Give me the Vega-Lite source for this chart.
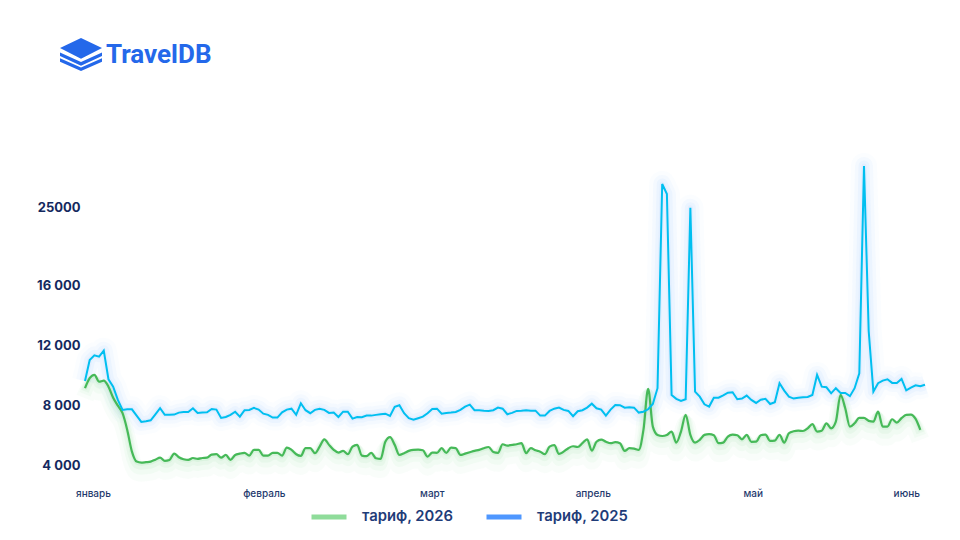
{
  "$schema": "https://vega.github.io/schema/vega-lite/v6.json",
  "description": "TravelDB daily fares, 2026 vs 2025",
  "autosize": "none",
  "width": 840,
  "height": 385,
  "padding": {"left": 85, "top": 100, "right": 35, "bottom": 55},
  "background": "white",
  "config": {"view": {"stroke": null}, "font": "Inter"},
  "title": {
    "text": "TravelDB",
    "anchor": "start",
    "frame": "group",
    "dx": 21,
    "dy": 30,
    "offset": 0,
    "font": "Roboto",
    "fontSize": 26,
    "fontWeight": 700,
    "color": "#2468ea"
  },
  "data": {"values": [
    {"day":0,"тариф, 2026":9090,"тариф, 2025":9570},{"day":1,"тариф, 2026":9750,"тариф, 2025":10960},{"day":2,"тариф, 2026":9970,"тариф, 2025":11270},{"day":3,"тариф, 2026":9520,"тариф, 2025":11180},{"day":4,"тариф, 2026":9590,"тариф, 2025":11580},{"day":5,"тариф, 2026":9190,"тариф, 2025":9680},{"day":6,"тариф, 2026":8460,"тариф, 2025":9190},{"day":7,"тариф, 2026":7930,"тариф, 2025":8310},{"day":8,"тариф, 2026":7430,"тариф, 2025":7650},{"day":9,"тариф, 2026":6320,"тариф, 2025":7690},
    {"day":10,"тариф, 2026":4880,"тариф, 2025":7690},{"day":11,"тариф, 2026":4220,"тариф, 2025":7270},{"day":12,"тариф, 2026":4150,"тариф, 2025":6850},{"day":13,"тариф, 2026":4180,"тариф, 2025":6900},{"day":14,"тариф, 2026":4220,"тариф, 2025":6960},{"day":15,"тариф, 2026":4350,"тариф, 2025":7360},{"day":16,"тариф, 2026":4480,"тариф, 2025":7760},{"day":17,"тариф, 2026":4270,"тариф, 2025":7320},{"day":18,"тариф, 2026":4330,"тариф, 2025":7320},{"day":19,"тариф, 2026":4750,"тариф, 2025":7340},
    {"day":20,"тариф, 2026":4510,"тариф, 2025":7470},{"day":21,"тариф, 2026":4380,"тариф, 2025":7510},{"day":22,"тариф, 2026":4330,"тариф, 2025":7510},{"day":23,"тариф, 2026":4460,"тариф, 2025":7760},{"day":24,"тариф, 2026":4400,"тариф, 2025":7450},{"day":25,"тариф, 2026":4460,"тариф, 2025":7470},{"day":26,"тариф, 2026":4480,"тариф, 2025":7490},{"day":27,"тариф, 2026":4680,"тариф, 2025":7710},{"day":28,"тариф, 2026":4710,"тариф, 2025":7670},{"day":29,"тариф, 2026":4480,"тариф, 2025":7120},
    {"day":30,"тариф, 2026":4660,"тариф, 2025":7180},{"day":31,"тариф, 2026":4330,"тариф, 2025":7320},{"day":32,"тариф, 2026":4660,"тариф, 2025":7530},{"day":33,"тариф, 2026":4750,"тариф, 2025":7200},{"day":34,"тариф, 2026":4800,"тариф, 2025":7630},{"day":35,"тариф, 2026":4620,"тариф, 2025":7650},{"day":36,"тариф, 2026":5000,"тариф, 2025":7780},{"day":37,"тариф, 2026":5000,"тариф, 2025":7670},{"day":38,"тариф, 2026":4620,"тариф, 2025":7400},{"day":39,"тариф, 2026":4620,"тариф, 2025":7320},
    {"day":40,"тариф, 2026":4800,"тариф, 2025":7140},{"day":41,"тариф, 2026":4800,"тариф, 2025":7140},{"day":42,"тариф, 2026":4620,"тариф, 2025":7490},{"day":43,"тариф, 2026":5150,"тариф, 2025":7670},{"day":44,"тариф, 2026":5000,"тариф, 2025":7730},{"day":45,"тариф, 2026":4710,"тариф, 2025":7320},{"day":46,"тариф, 2026":4600,"тариф, 2025":8090},{"day":47,"тариф, 2026":5110,"тариф, 2025":7630},{"day":48,"тариф, 2026":5110,"тариф, 2025":7430},{"day":49,"тариф, 2026":4780,"тариф, 2025":7650},
    {"day":50,"тариф, 2026":5210,"тариф, 2025":7730},{"day":51,"тариф, 2026":5700,"тариф, 2025":7650},{"day":52,"тариф, 2026":5330,"тариф, 2025":7450},{"day":53,"тариф, 2026":5000,"тариф, 2025":7470},{"day":54,"тариф, 2026":4820,"тариф, 2025":7180},{"day":55,"тариф, 2026":4930,"тариф, 2025":7530},{"day":56,"тариф, 2026":4710,"тариф, 2025":7530},{"day":57,"тариф, 2026":5210,"тариф, 2025":7070},{"day":58,"тариф, 2026":5330,"тариф, 2025":7180},{"day":59,"тариф, 2026":4620,"тариф, 2025":7160},
    {"day":60,"тариф, 2026":4580,"тариф, 2025":7270},{"day":61,"тариф, 2026":4800,"тариф, 2025":7270},{"day":62,"тариф, 2026":4440,"тариф, 2025":7320},{"day":63,"тариф, 2026":4400,"тариф, 2025":7360},{"day":64,"тариф, 2026":5540,"тариф, 2025":7400},{"day":65,"тариф, 2026":5840,"тариф, 2025":7250},{"day":66,"тариф, 2026":5330,"тариф, 2025":7850},{"day":67,"тариф, 2026":4660,"тариф, 2025":7960},{"day":68,"тариф, 2026":4780,"тариф, 2025":7430},{"day":69,"тариф, 2026":4930,"тариф, 2025":7100},
    {"day":70,"тариф, 2026":5000,"тариф, 2025":7000},{"day":71,"тариф, 2026":5010,"тариф, 2025":7100},{"day":72,"тариф, 2026":4970,"тариф, 2025":7200},{"day":73,"тариф, 2026":4550,"тариф, 2025":7430},{"day":74,"тариф, 2026":4820,"тариф, 2025":7710},{"day":75,"тариф, 2026":4800,"тариф, 2025":7730},{"day":76,"тариф, 2026":5110,"тариф, 2025":7400},{"day":77,"тариф, 2026":4800,"тариф, 2025":7450},{"day":78,"тариф, 2026":5150,"тариф, 2025":7470},{"day":79,"тариф, 2026":5110,"тариф, 2025":7510},
    {"day":80,"тариф, 2026":4660,"тариф, 2025":7650},{"day":81,"тариф, 2026":4750,"тариф, 2025":7870},{"day":82,"тариф, 2026":4840,"тариф, 2025":8000},{"day":83,"тариф, 2026":4930,"тариф, 2025":7630},{"day":84,"тариф, 2026":5000,"тариф, 2025":7630},{"day":85,"тариф, 2026":5110,"тариф, 2025":7600},{"day":86,"тариф, 2026":5190,"тариф, 2025":7580},{"day":87,"тариф, 2026":4860,"тариф, 2025":7630},{"day":88,"тариф, 2026":4800,"тариф, 2025":7800},{"day":89,"тариф, 2026":5370,"тариф, 2025":7730},
    {"day":90,"тариф, 2026":5280,"тариф, 2025":7360},{"day":91,"тариф, 2026":5330,"тариф, 2025":7450},{"day":92,"тариф, 2026":5370,"тариф, 2025":7580},{"day":93,"тариф, 2026":5440,"тариф, 2025":7600},{"day":94,"тариф, 2026":4780,"тариф, 2025":7630},{"day":95,"тариф, 2026":5110,"тариф, 2025":7600},{"day":96,"тариф, 2026":4970,"тариф, 2025":7600},{"day":97,"тариф, 2026":4880,"тариф, 2025":7270},{"day":98,"тариф, 2026":4710,"тариф, 2025":7270},{"day":99,"тариф, 2026":5210,"тариф, 2025":7580},
    {"day":100,"тариф, 2026":5310,"тариф, 2025":7730},{"day":101,"тариф, 2026":4730,"тариф, 2025":7800},{"day":102,"тариф, 2026":4880,"тариф, 2025":7650},{"day":103,"тариф, 2026":5110,"тариф, 2025":7580},{"day":104,"тариф, 2026":5240,"тариф, 2025":7230},{"day":105,"тариф, 2026":5190,"тариф, 2025":7560},{"day":106,"тариф, 2026":5440,"тариф, 2025":7630},{"day":107,"тариф, 2026":5700,"тариф, 2025":7800},{"day":108,"тариф, 2026":4950,"тариф, 2025":8060},{"day":109,"тариф, 2026":5540,"тариф, 2025":7760},
    {"day":110,"тариф, 2026":5680,"тариф, 2025":7670},{"day":111,"тариф, 2026":5540,"тариф, 2025":7270},{"day":112,"тариф, 2026":5440,"тариф, 2025":7670},{"day":113,"тариф, 2026":5510,"тариф, 2025":7980},{"day":114,"тариф, 2026":5440,"тариф, 2025":7960},{"day":115,"тариф, 2026":4930,"тариф, 2025":7800},{"day":116,"тариф, 2026":5110,"тариф, 2025":7830},{"day":117,"тариф, 2026":5080,"тариф, 2025":7800},{"day":118,"тариф, 2026":5000,"тариф, 2025":7470},{"day":119,"тариф, 2026":6320,"тариф, 2025":7530},
    {"day":120,"тариф, 2026":9040,"тариф, 2025":7690},{"day":121,"тариф, 2026":6540,"тариф, 2025":8040},{"day":122,"тариф, 2026":5990,"тариф, 2025":9090},{"day":123,"тариф, 2026":5920,"тариф, 2025":27540},{"day":124,"тариф, 2026":5990,"тариф, 2025":26390},{"day":125,"тариф, 2026":6210,"тариф, 2025":8640},{"day":126,"тариф, 2026":5480,"тариф, 2025":8380},{"day":127,"тариф, 2026":6210,"тариф, 2025":8240},{"day":128,"тариф, 2026":7320,"тариф, 2025":8360},{"day":129,"тариф, 2026":5990,"тариф, 2025":24800},
    {"day":130,"тариф, 2026":5480,"тариф, 2025":8860},{"day":131,"тариф, 2026":5660,"тариф, 2025":8530},{"day":132,"тариф, 2026":5990,"тариф, 2025":8020},{"day":133,"тариф, 2026":6040,"тариф, 2025":7870},{"day":134,"тариф, 2026":5970,"тариф, 2025":8460},{"day":135,"тариф, 2026":5440,"тариф, 2025":8460},{"day":136,"тариф, 2026":5480,"тариф, 2025":8620},{"day":137,"тариф, 2026":5880,"тариф, 2025":8790},{"day":138,"тариф, 2026":6010,"тариф, 2025":8820},{"day":139,"тариф, 2026":5970,"тариф, 2025":8360},
    {"day":140,"тариф, 2026":5700,"тариф, 2025":8400},{"day":141,"тариф, 2026":5990,"тариф, 2025":8600},{"day":142,"тариф, 2026":5530,"тариф, 2025":8310},{"day":143,"тариф, 2026":5540,"тариф, 2025":8110},{"day":144,"тариф, 2026":5970,"тариф, 2025":8330},{"day":145,"тариф, 2026":6010,"тариф, 2025":8380},{"day":146,"тариф, 2026":5590,"тариф, 2025":8040},{"day":147,"тариф, 2026":5610,"тариф, 2025":8160},{"day":148,"тариф, 2026":5990,"тариф, 2025":9420},{"day":149,"тариф, 2026":5480,"тариф, 2025":8930},
    {"day":150,"тариф, 2026":6100,"тариф, 2025":8530},{"day":151,"тариф, 2026":6230,"тариф, 2025":8400},{"day":152,"тариф, 2026":6270,"тариф, 2025":8460},{"day":153,"тариф, 2026":6250,"тариф, 2025":8490},{"day":154,"тариф, 2026":6430,"тариф, 2025":8510},{"day":155,"тариф, 2026":6700,"тариф, 2025":8640},{"day":156,"тариф, 2026":6210,"тариф, 2025":9970},{"day":157,"тариф, 2026":6270,"тариф, 2025":9190},{"day":158,"тариф, 2026":6760,"тариф, 2025":9150},{"day":159,"тариф, 2026":6430,"тариф, 2025":8750},
    {"day":160,"тариф, 2026":6870,"тариф, 2025":9090},{"day":161,"тариф, 2026":8640,"тариф, 2025":8770},{"day":162,"тариф, 2026":7760,"тариф, 2025":8770},{"day":163,"тариф, 2026":6540,"тариф, 2025":8560},{"day":164,"тариф, 2026":6760,"тариф, 2025":9090},{"day":165,"тариф, 2026":7120,"тариф, 2025":10080},{"day":166,"тариф, 2026":7120,"тариф, 2025":29620},{"day":167,"тариф, 2026":6920,"тариф, 2025":12880},{"day":168,"тариф, 2026":6870,"тариф, 2025":8860},{"day":169,"тариф, 2026":7530,"тариф, 2025":9420},
    {"day":170,"тариф, 2026":6540,"тариф, 2025":9590},{"day":171,"тариф, 2026":6540,"тариф, 2025":9680},{"day":172,"тариф, 2026":7030,"тариф, 2025":9440},{"day":173,"тариф, 2026":6800,"тариф, 2025":9440},{"day":174,"тариф, 2026":7100,"тариф, 2025":9700},{"day":175,"тариф, 2026":7320,"тариф, 2025":8950},{"day":176,"тариф, 2026":7340,"тариф, 2025":9130},{"day":177,"тариф, 2026":7050,"тариф, 2025":9280},{"day":178,"тариф, 2026":6320,"тариф, 2025":9220},{"day":179,"тариф, 2025":9320}
  ]},
  "transform": [{"fold": ["тариф, 2026", "тариф, 2025"], "as": ["series", "value"]}],
  "encoding": {
    "x": {
      "field": "day",
      "type": "quantitative",
      "scale": {"domain": [0, 179], "nice": false, "zero": false},
      "axis": {
        "values": [1.7, 38.1, 73.9, 108.2, 142.3, 175],
        "labelExpr": "['январь','февраль','март','апрель','май','июнь'][indexof([1.7,38.1,73.9,108.2,142.3,175], datum.value)]",
        "title": null,
        "domain": false,
        "ticks": false,
        "grid": false,
        "labelPadding": 3,
        "labelFontSize": 10,
        "labelFontWeight": 500,
        "labelColor": "#1f3a6e",
        "labelFlush": false
      }
    },
    "y": {
      "field": "value",
      "type": "quantitative",
      "scale": {"domain": [3000, 16000, 25000, 30000], "range": [380, 184, 106, 62.7], "clamp": false},
      "axis": {
        "values": [4000, 8000, 12000, 16000, 25000],
        "labelExpr": "datum.value == 25000 ? '25000' : replace(format(datum.value, ','), ',', ' ')",
        "title": null,
        "domain": false,
        "ticks": false,
        "grid": false,
        "labelPadding": 5,
        "labelOffset": 1,
        "labelFontSize": 13,
        "labelFontWeight": 700,
        "labelColor": "#14295e"
      }
    },
    "color": {
      "field": "series",
      "type": "nominal",
      "scale": {"domain": ["тариф, 2026", "тариф, 2025"], "range": ["#8fdc9a", "#4f97ff"]},
      "legend": {
        "title": null,
        "orient": "none",
        "legendX": 224,
        "legendY": 397,
        "columns": 2,
        "columnPadding": 22,
        "symbolType": "stroke",
        "symbolSize": 1225,
        "symbolStrokeWidth": 5,
        "symbolOpacity": 1,
        "labelOffset": 13,
        "labelFontSize": 14.8,
        "labelFontWeight": 600,
        "labelColor": "#1f3c78"
      }
    }
  },
  "layer": [
    {"transform": [{"filter": "datum.series === 'тариф, 2025'"}], "mark": {"type": "line", "strokeWidth": 26, "opacity": 0.025, "strokeJoin": "round"}},
    {"transform": [{"filter": "datum.series === 'тариф, 2025'"}], "mark": {"type": "line", "strokeWidth": 18, "opacity": 0.04, "strokeJoin": "round"}},
    {"transform": [{"filter": "datum.series === 'тариф, 2025'"}], "mark": {"type": "line", "strokeWidth": 11, "opacity": 0.05, "strokeJoin": "round"}},
    {"transform": [{"filter": "datum.series === 'тариф, 2025'"}], "mark": {"type": "line", "strokeWidth": 5, "opacity": 0.06, "strokeJoin": "round"}},
    {"transform": [{"filter": "datum.series === 'тариф, 2026'"}], "mark": {"type": "line", "interpolate": "monotone", "strokeWidth": 18, "opacity": 0.05, "yOffset": 10}},
    {"transform": [{"filter": "datum.series === 'тариф, 2026'"}], "mark": {"type": "line", "interpolate": "monotone", "strokeWidth": 12, "opacity": 0.07, "yOffset": 6}},
    {"transform": [{"filter": "datum.series === 'тариф, 2026'"}], "mark": {"type": "line", "interpolate": "monotone", "strokeWidth": 8, "opacity": 0.1, "yOffset": 3}},
    {"transform": [{"filter": "datum.series === 'тариф, 2026'"}], "mark": {"type": "line", "interpolate": "monotone", "strokeWidth": 4, "opacity": 0.15, "yOffset": 1}},
    {"transform": [{"filter": "datum.series === 'тариф, 2026'"}], "mark": {"type": "line", "interpolate": "monotone", "strokeWidth": 2.2}, "encoding": {"color": {"value": "#46b958"}}},
    {"transform": [{"filter": "datum.series === 'тариф, 2025'"}], "mark": {"type": "line", "strokeWidth": 2}, "encoding": {"color": {"value": "#00bff0"}}},
    {
      "data": {"values": [{"brand": "TravelDB"}]},
      "mark": {
        "type": "point",
        "filled": true,
        "opacity": 1,
        "size": 1764,
        "strokeWidth": 0,
        "shape": "M-1,-.31 L0,-.79 L1,-.31 L0,.2 Z M-1,-.1 L0,.36 L1,-.1 L1,.07 L0,.53 L-1,.07 Z M-1,.18 L0,.62 L1,.18 L1,.35 L0,.79 L-1,.35 Z"
      },
      "encoding": {
        "x": {"value": -4},
        "y": {"value": -45.5},
        "color": {"value": "#2468ea"}
      }
    }
  ]
}
